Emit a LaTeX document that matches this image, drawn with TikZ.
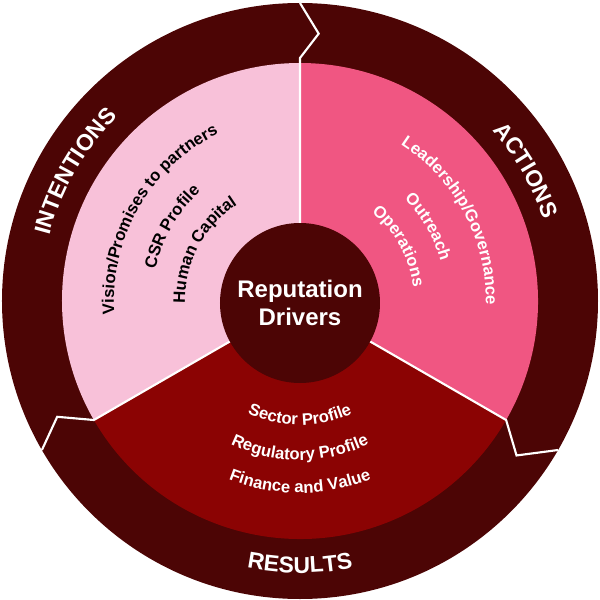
\documentclass[tikz,border=0pt]{standalone}
\usepackage{fontspec}
\setmainfont{Liberation Sans}
\usetikzlibrary{decorations.text}
\definecolor{ringc}{RGB}{76,5,5}
\definecolor{lpink}{RGB}{248,193,217}
\definecolor{hpink}{RGB}{240,86,130}
\definecolor{dred}{RGB}{139,3,3}
\tikzset{
  divider/.style={draw=white, line width=1.6pt, line join=miter},
  outerlabel/.style={decorate, decoration={text along path, text align=center,
     text={|\bfseries\fontsize{17.2}{19}\selectfont\color{white}|#1}}},
  innerwhite/.style={decorate, decoration={text along path, text align=center,
     text={|\bfseries\fontsize{12.5}{14}\selectfont\color{white}|#1}}},
  innerblack/.style={decorate, decoration={text along path, text align=center,
     text={|\bfseries\fontsize{12.5}{14}\selectfont\color{black}|#1}}},
}
\begin{document}
\begin{tikzpicture}[x=0.75pt,y=0.75pt]
\useasboundingbox (-300,-299) rectangle (300,301);
% outer ring
\fill[ringc] (0,0) circle (298);
% sectors
\fill[lpink] (0,0) -- (90:238) arc[start angle=90,end angle=210,radius=238] -- cycle;
\fill[hpink] (0,0) -- (-30:238) arc[start angle=-30,end angle=90,radius=238] -- cycle;
\fill[dred] (0,0) -- (210:238) arc[start angle=210,end angle=330,radius=238] -- cycle;
% dividers and zigzags
\coordinate (o) at (0,0);
\draw[divider] (o) -- (90:238) -- (90:243) -- (86:268) -- (90:298);
\draw[divider] (o) -- (210:238) -- (205.5:269) -- (210:298);
\draw[divider] (o) -- (330:238) -- (324.5:266) -- (330:298);
% center
\node[circle, fill=ringc, minimum size=120pt, inner sep=0pt, align=center,
      text=white, font=\bfseries\fontsize{18}{21}\selectfont] (center) at (0,-2)
      {Reputation\\Drivers};
% outer labels
\path[outerlabel=INTENTIONS] (190:259) arc[start angle=190,end angle=110,radius=259];
\path[outerlabel=ACTIONS] (70:257) arc[start angle=70,end angle=-10,radius=257];
\path[outerlabel=RESULTS] (230:272) arc[start angle=230,end angle=310,radius=272];
% left sector
\path[innerblack={Vision/Promises to partners}] (215:186) arc[start angle=215,end angle=85,radius=186];
\path[innerblack={CSR Profile}] (210:148) arc[start angle=210,end angle=90,radius=148];
\path[innerblack={Human Capital}] (212:115) arc[start angle=212,end angle=92,radius=115];
% right sector
\path[innerwhite={Leadership/Governance}] (93:186) arc[start angle=93,end angle=-37,radius=186];
\path[innerwhite={Outreach}] (90:146) arc[start angle=90,end angle=-30,radius=146];
\path[innerwhite={Operations}] (89:114) arc[start angle=89,end angle=-31,radius=114];
% bottom sector
\path[innerwhite={Sector Profile}] (220:124) arc[start angle=220,end angle=320,radius=124];
\path[innerwhite={Regulatory Profile}] (220:159) arc[start angle=220,end angle=320,radius=159];
\path[innerwhite={Finance and Value}] (220:192) arc[start angle=220,end angle=320,radius=192];
\end{tikzpicture}
\end{document}
